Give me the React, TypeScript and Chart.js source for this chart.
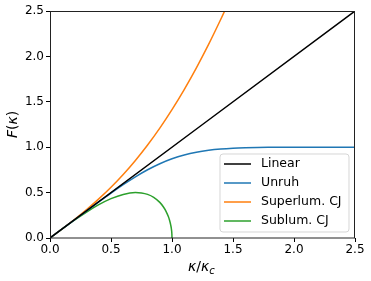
import React, { useEffect, useRef } from 'react';
import { Chart, registerables } from 'chart.js';

Chart.register(...registerables);

const FONT = 'DejaVu Sans';

const kappaLinear = [0, 2.5];
const fLinear = [0, 2.5];

const kappaUnruh = [0, 0.1, 0.2, 0.3, 0.4, 0.5, 0.6, 0.7, 0.8, 0.9, 1.0, 1.1, 1.2, 1.3, 1.4, 1.5, 1.6, 1.7, 1.8, 2.0, 2.2, 2.5];
const fUnruh = [0, 0.1, 0.2, 0.2996, 0.3983, 0.4949, 0.5875, 0.674, 0.7516, 0.8183, 0.8727, 0.9147, 0.9454, 0.9665, 0.9804, 0.989, 0.994, 0.997, 0.9984, 0.9997, 1.0, 1.0];

const kappaSuper = [0, 0.1, 0.2, 0.3, 0.4, 0.5, 0.6, 0.7, 0.8, 0.9, 1.0, 1.1, 1.2, 1.3, 1.4, 1.45];
const fSuper = [0, 0.1005, 0.204, 0.3132, 0.4308, 0.559, 0.6997, 0.8545, 1.0245, 1.2108, 1.4142, 1.6353, 1.8745, 2.1322, 2.4087, 2.554];

const kappaSub = [0, 0.1, 0.2, 0.3, 0.4, 0.5, 0.6, 0.7, 0.75, 0.8, 0.85, 0.9, 0.93, 0.95, 0.97, 0.98, 0.99, 0.995, 0.999, 1.0];
const fSub = [0, 0.0995, 0.196, 0.2862, 0.3666, 0.433, 0.48, 0.4999, 0.4961, 0.48, 0.4478, 0.3923, 0.3418, 0.2966, 0.2358, 0.195, 0.1397, 0.0994, 0.0447, 0];

const seriesNames = ['Linear', 'Unruh', 'Superlum. CJ', 'Sublum. CJ'];
const seriesColors = ['#000000', '#1f77b4', '#ff7f0e', '#2ca02c'];
const tickValues = [0, 0.5, 1.0, 1.5, 2.0, 2.5];

const toPoints = (xs: number[], ys: number[]) => xs.map((x, i) => ({ x, y: ys[i] }));

const framePlugin = {
  id: 'frame',
  afterDatasetsDraw(chart: any) {
    const { ctx, chartArea: a } = chart;
    ctx.save();
    ctx.strokeStyle = '#222';
    ctx.lineWidth = 1;
    ctx.strokeRect(Math.round(a.left) + 0.5, Math.round(a.top) + 0.5, Math.round(a.right - a.left) - 1, Math.round(a.bottom - a.top) - 0.5);
    ctx.restore();
  },
  afterDraw(chart: any) {
    const { ctx, chartArea: a } = chart;
    ctx.save();
    // legend
    const fs = 12.5;
    const boxR = a.right - 6;
    const boxB = a.bottom - 6;
    const boxL = 220;
    const boxT = boxB - 78;
    ctx.beginPath();
    const r = 3;
    ctx.moveTo(boxL + r, boxT);
    ctx.lineTo(boxR - r, boxT);
    ctx.quadraticCurveTo(boxR, boxT, boxR, boxT + r);
    ctx.lineTo(boxR, boxB - r);
    ctx.quadraticCurveTo(boxR, boxB, boxR - r, boxB);
    ctx.lineTo(boxL + r, boxB);
    ctx.quadraticCurveTo(boxL, boxB, boxL, boxB - r);
    ctx.lineTo(boxL, boxT + r);
    ctx.quadraticCurveTo(boxL, boxT, boxL + r, boxT);
    ctx.closePath();
    ctx.fillStyle = 'rgba(255,255,255,0.8)';
    ctx.fill();
    ctx.strokeStyle = 'rgba(204,204,204,0.8)';
    ctx.lineWidth = 1;
    ctx.stroke();
    ctx.font = `${fs}px "${FONT}"`;
    ctx.textBaseline = 'middle';
    ctx.textAlign = 'left';
    chart.data.datasets.forEach((ds: any, i: number) => {
      const y = boxT + 10 + i * 19;
      ctx.strokeStyle = ds.borderColor;
      ctx.lineWidth = 1.5;
      ctx.beginPath();
      ctx.moveTo(224, y);
      ctx.lineTo(251, y);
      ctx.stroke();
      ctx.fillStyle = '#000';
      ctx.fillText(ds.label, 261, y);
    });

    // x title: κ/κ_c
    ctx.fillStyle = '#000';
    ctx.textBaseline = 'alphabetic';
    const base = 271;
    let x = 188;
    ctx.font = `italic 14px "${FONT}"`;
    ctx.fillText('κ', x, base);
    x += ctx.measureText('κ').width;
    ctx.font = `14px "${FONT}"`;
    ctx.fillText('/', x, base);
    x += ctx.measureText('/').width;
    ctx.font = `italic 14px "${FONT}"`;
    ctx.fillText('κ', x, base);
    x += ctx.measureText('κ').width;
    ctx.font = `italic 10px "${FONT}"`;
    ctx.fillText('c', x, base + 2.5);

    // y title: F(κ)
    const parts: [string, string][] = [['F', 'italic'], ['(', ''], ['κ', 'italic'], [')', '']];
    let total = 0;
    parts.forEach(([t, s]) => {
      ctx.font = `${s} 14px "${FONT}"`.trim();
      total += ctx.measureText(t).width;
    });
    ctx.translate(17, (a.top + a.bottom) / 2);
    ctx.rotate(-Math.PI / 2);
    let px = -total / 2;
    parts.forEach(([t, s]) => {
      ctx.font = `${s} 14px "${FONT}"`.trim();
      ctx.fillText(t, px, 0);
      px += ctx.measureText(t).width;
    });
    ctx.restore();
  },
};

export default function App() {
  const ref = useRef<HTMLCanvasElement | null>(null);
  useEffect(() => {
    document.body.style.margin = '0';
    const canvas = ref.current!;
    const xs = [kappaLinear, kappaUnruh, kappaSuper, kappaSub];
    const ys = [fLinear, fUnruh, fSuper, fSub];
    const chart = new Chart(canvas, {
      type: 'line',
      data: {
        datasets: seriesNames.map((name, i) => ({
          label: name,
          data: toPoints(xs[i], ys[i]),
          borderColor: seriesColors[i],
          backgroundColor: seriesColors[i],
          borderWidth: 1.5,
          pointRadius: 0,
          fill: false,
          cubicInterpolationMode: 'monotone',
          clip: 0,
        })),
      },
      options: {
        animation: false,
        responsive: false,
        devicePixelRatio: 1,
        layout: { padding: { left: 0, right: 16, top: 11, bottom: 0 } },
        plugins: { legend: { display: false }, tooltip: { enabled: false } },
        scales: {
          x: {
            type: 'linear',
            min: 0,
            max: 2.5,
            afterBuildTicks: (s: any) => { s.ticks = tickValues.map((v) => ({ value: v })); },
            afterFit: (s: any) => { s.height = 43; },
            ticks: {
              callback: (v: any) => Number(v).toFixed(1),
              font: { family: FONT, size: 12 },
              color: '#000',
              padding: 1,
              maxRotation: 0,
              autoSkip: false,
            },
            grid: { drawOnChartArea: false, drawTicks: true, tickLength: 4, color: '#000', tickWidth: 1 },
            border: { display: false },
          },
          y: {
            type: 'linear',
            min: 0,
            max: 2.5,
            afterBuildTicks: (s: any) => { s.ticks = tickValues.map((v) => ({ value: v })); },
            afterFit: (s: any) => { s.width = 50; },
            ticks: {
              callback: (v: any) => Number(v).toFixed(1),
              font: { family: FONT, size: 12 },
              color: '#000',
              padding: 2,
              autoSkip: false,
            },
            grid: { drawOnChartArea: false, drawTicks: true, tickLength: 4, color: '#000', tickWidth: 1 },
            border: { display: false },
          },
        },
      } as any,
      plugins: [framePlugin],
    });
    return () => chart.destroy();
  }, []);
  return (
    <div style={{ width: 371, height: 281 }}>
      <canvas ref={ref} width={371} height={281} style={{ display: 'block' }} />
    </div>
  );
}
